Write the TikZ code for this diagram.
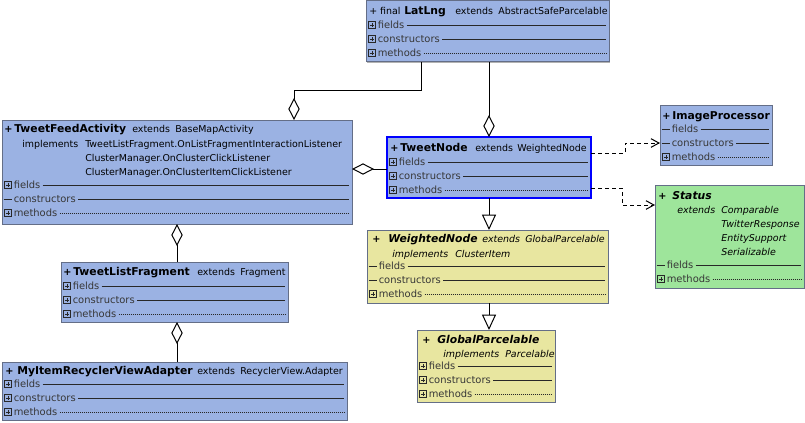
\documentclass[tikz,border=0pt]{standalone}
\usepackage{fontspec}
\setmainfont{DejaVu Sans}[BoldFont={DejaVu Sans Bold},ItalicFont={DejaVu Sans Oblique},BoldItalicFont={DejaVu Sans Bold Oblique}]
\usetikzlibrary{arrows.meta,shadows}
\definecolor{bluefill}{RGB}{155,178,227}
\definecolor{yelfill}{RGB}{232,230,160}
\definecolor{grnfill}{RGB}{158,229,155}
\definecolor{boxedge}{RGB}{100,110,135}
\definecolor{lblgray}{RGB}{55,55,55}
\definecolor{linegray}{RGB}{40,40,40}
\tikzset{
  boxsize/.style 2 args={minimum width={#1*0.75pt},minimum height={#2*0.75pt}},
  umlbox/.style={draw=boxedge, line width=0.75pt, anchor=north west, inner sep=0pt, outer sep=0pt, fill=#1,
    drop shadow={shadow xshift=0.9pt, shadow yshift=-0.9pt, opacity=0.3, fill=black}},
  reg/.style={anchor=base west, inner sep=0pt, font=\fontsize{7.1}{8}\selectfont},
  itl/.style={anchor=base west, inner sep=0pt, font=\fontsize{7.1}{8}\selectfont\itshape},
  bld/.style={anchor=base west, inner sep=0pt, font=\fontsize{8.1}{9}\selectfont\bfseries},
  bit/.style={anchor=base west, inner sep=0pt, font=\fontsize{8.1}{9}\selectfont\bfseries\itshape},
  pls/.style={anchor=base west, inner sep=0pt, font=\fontsize{7.3}{8}\selectfont\bfseries},
  rowtxt/.style={anchor=base west, inner sep=0pt, font=\fontsize{7.45}{8}\selectfont, text=lblgray},
  rowline/.style={draw=linegray, line width=0.6pt},
  dotrow/.style={dash pattern=on 0.6pt off 0.9pt, line width=0.5pt},
  solidrow/.style={},
  icon/.style={draw=linegray, line width=0.5pt},
  aggr/.style={draw=black, line width=0.75pt, {Diamond[length=16.5pt,width=8.5pt,fill=white]}-},
  gen/.style={draw=black, line width=0.75pt, -{Triangle[length=11.5pt,width=10.5pt,fill=white]}},
  dep/.style={draw=black, line width=0.75pt, dash pattern=on 3pt off 2.25pt, -{Straight Barb[length=6pt,width=6.5pt]}}
}
% #1 name, #2 left, #3 right, #4 y centre, #5 label, #6 p (plus icon) or d (dash), #7 line style
\newcommand\urow[7]{%
  \if p#6
    \draw[icon] (#2+2.5,#4-3.5) rectangle (#2+9.5,#4+3.5);
    \draw[icon] (#2+4,#4) -- (#2+8,#4) (#2+6,#4-2) -- (#2+6,#4+2);
  \else
    \draw[rowline] (#2+1.5,#4) -- (#2+9.5,#4);
  \fi
  \node[rowtxt] (#1) at (#2+11.5,#4+3.5) {#5};
  \draw[rowline,#7] ([xshift=1.5pt]#1.base east) ++(0,-3.5) -- (#3-3,#4);
}
\begin{document}
\begin{tikzpicture}[x=0.75pt,y=-0.75pt]
\useasboundingbox (0,0) rectangle (805,422);
\fill[white] (0,0) rectangle (805,422);

% boxes
\node[umlbox=bluefill, boxsize={243}{61}] (latlng) at (366,0.5) {};
\node[umlbox=bluefill, boxsize={350}{104}] (tfa) at (2,120) {};
\node[umlbox=bluefill, boxsize={204}{61}, draw=blue, line width=1.2pt] (tn) at (387,137) {};
\node[umlbox=bluefill, boxsize={112}{60}] (ip) at (660,105) {};
\node[umlbox=grnfill, boxsize={149}{103}] (st) at (655,185) {};
\node[umlbox=yelfill, boxsize={241}{73}] (wn) at (367,230) {};
\node[umlbox=yelfill, boxsize={138}{72}] (gp) at (417,330) {};
\node[umlbox=bluefill, boxsize={227}{60}] (tlf) at (61,262) {};
\node[umlbox=bluefill, boxsize={345}{58}] (mi) at (2,362) {};

% LatLng
\node[reg] (ll1) at (369,14) {+ final};
\node[bld] (ll2) at (404,14) {LatLng};
\node[reg] (ll3) at (455,14) {extends};
\node[reg] (ll4) at (498,14) {AbstractSafeParcelable};
\urow{llf}{366}{609}{25}{fields}{p}{solidrow}
\urow{llc}{366}{609}{39}{constructors}{p}{solidrow}
\urow{llm}{366}{609}{53}{methods}{p}{dotrow}

% TweetFeedActivity
\node[pls] (ta1) at (4,132) {+};
\node[bld] (ta2) at (14,132) {TweetFeedActivity};
\node[reg] (ta3) at (132,132) {extends};
\node[reg] (ta4) at (175,132) {BaseMapActivity};
\node[reg] (ta5) at (22,147) {implements};
\node[reg] (ta6) at (85,147) {TweetListFragment.OnListFragmentInteractionListener};
\node[reg] (ta7) at (85,161) {ClusterManager.OnClusterClickListener};
\node[reg] (ta8) at (85,175) {ClusterManager.OnClusterItemClickListener};
\urow{taf}{2}{352}{185}{fields}{p}{solidrow}
\urow{tac}{2}{352}{199}{constructors}{d}{solidrow}
\urow{tam}{2}{352}{213}{methods}{p}{dotrow}

% TweetNode
\node[pls] (tn1) at (390,151) {+};
\node[bld] (tn2) at (400,151) {TweetNode};
\node[reg] (tn3) at (475,151) {extends};
\node[reg] (tn4) at (517,151) {WeightedNode};
\urow{tnf}{387}{591}{162}{fields}{p}{solidrow}
\urow{tnc}{387}{591}{176}{constructors}{p}{solidrow}
\urow{tnm}{387}{591}{190}{methods}{p}{dotrow}

% ImageProcessor
\node[pls] (ip1) at (662,119) {+};
\node[bld] (ip2) at (672,119) {ImageProcessor};
\urow{ipf}{660}{772}{129}{fields}{d}{solidrow}
\urow{ipc}{660}{772}{143}{constructors}{d}{solidrow}
\urow{ipm}{660}{772}{157}{methods}{p}{dotrow}

% Status
\node[pls,font=\fontsize{7.3}{8}\selectfont\bfseries\itshape] (st1) at (658,199) {+};
\node[bit] (st2) at (672,199) {Status};
\node[itl] (st3) at (677,213) {extends};
\node[itl] (st4) at (721,213) {Comparable};
\node[itl] (st5) at (721,227) {TwitterResponse};
\node[itl] (st6) at (721,241) {EntitySupport};
\node[itl] (st7) at (721,255) {Serializable};
\urow{stf}{655}{804}{265}{fields}{d}{solidrow}
\urow{stm}{655}{804}{279}{methods}{p}{dotrow}

% WeightedNode
\node[pls,font=\fontsize{7.3}{8}\selectfont\bfseries\itshape] (wn1) at (372,242) {+};
\node[bit] (wn2) at (388,242) {WeightedNode};
\node[itl] (wn3) at (482,242) {extends};
\node[itl] (wn4) at (525,242) {GlobalParcelable};
\node[itl] (wn5) at (392,257) {implements};
\node[itl] (wn6) at (455,257) {ClusterItem};
\urow{wnf}{367}{608}{266}{fields}{d}{solidrow}
\urow{wnc}{367}{608}{280}{constructors}{d}{solidrow}
\urow{wnm}{367}{608}{294}{methods}{p}{dotrow}

% GlobalParcelable
\node[pls,font=\fontsize{7.3}{8}\selectfont\bfseries\itshape] (gp1) at (422,343) {+};
\node[bit] (gp2) at (437,343) {GlobalParcelable};
\node[itl] (gp3) at (443,357) {implements};
\node[itl] (gp4) at (505,357) {Parcelable};
\urow{gpf}{417}{555}{366}{fields}{p}{solidrow}
\urow{gpc}{417}{555}{380}{constructors}{p}{solidrow}
\urow{gpm}{417}{555}{394}{methods}{p}{dotrow}

% TweetListFragment
\node[pls] (tl1) at (63,275) {+};
\node[bld] (tl2) at (73,275) {TweetListFragment};
\node[reg] (tl3) at (197,275) {extends};
\node[reg] (tl4) at (240,275) {Fragment};
\urow{tlf1}{61}{288}{286}{fields}{p}{solidrow}
\urow{tlc}{61}{288}{300}{constructors}{p}{solidrow}
\urow{tlm}{61}{288}{314}{methods}{p}{dotrow}

% MyItemRecyclerViewAdapter
\node[pls] (mi1) at (5,374) {+};
\node[bld] (mi2) at (17,374) {MyItemRecyclerViewAdapter};
\node[reg] (mi3) at (197,374) {extends};
\node[reg] (mi4) at (240,374) {RecyclerView.Adapter};
\urow{mif}{2}{347}{384}{fields}{p}{solidrow}
\urow{mic}{2}{347}{398}{constructors}{p}{solidrow}
\urow{mim}{2}{347}{412}{methods}{p}{dotrow}

% connector helper coordinates
\coordinate (a1) at (294,90);
\coordinate (a2) at (421,90);
\coordinate (a3) at (489,0);
\coordinate (a4) at (0,169);
\coordinate (a5) at (177,0);
\coordinate (d1) at (0,153);
\coordinate (d2) at (625,143);
\coordinate (d3) at (0,188);
\coordinate (d4) at (622,205);

% connectors
\draw[aggr] (tfa.north -| a1) -- (a1) -- (a2) -- (latlng.south -| a2);
\draw[aggr] (tn.north -| a3) -- (latlng.south -| a3);
\draw[aggr] (tfa.east |- a4) -- (tn.west |- a4);
\draw[aggr] (tfa.south -| a5) -- (tlf.north -| a5);
\draw[aggr] (tlf.south -| a5) -- (mi.north -| a5);
\draw[gen] (tn.south -| a3) -- (wn.north -| a3);
\draw[gen] (wn.south -| a3) -- (gp.north -| a3);
\draw[dep] (tn.east |- d1) -| (d2) -- (ip.west |- d2);
\draw[dep] (tn.east |- d3) -| (d4) -- (st.west |- d4);
\end{tikzpicture}
\end{document}
